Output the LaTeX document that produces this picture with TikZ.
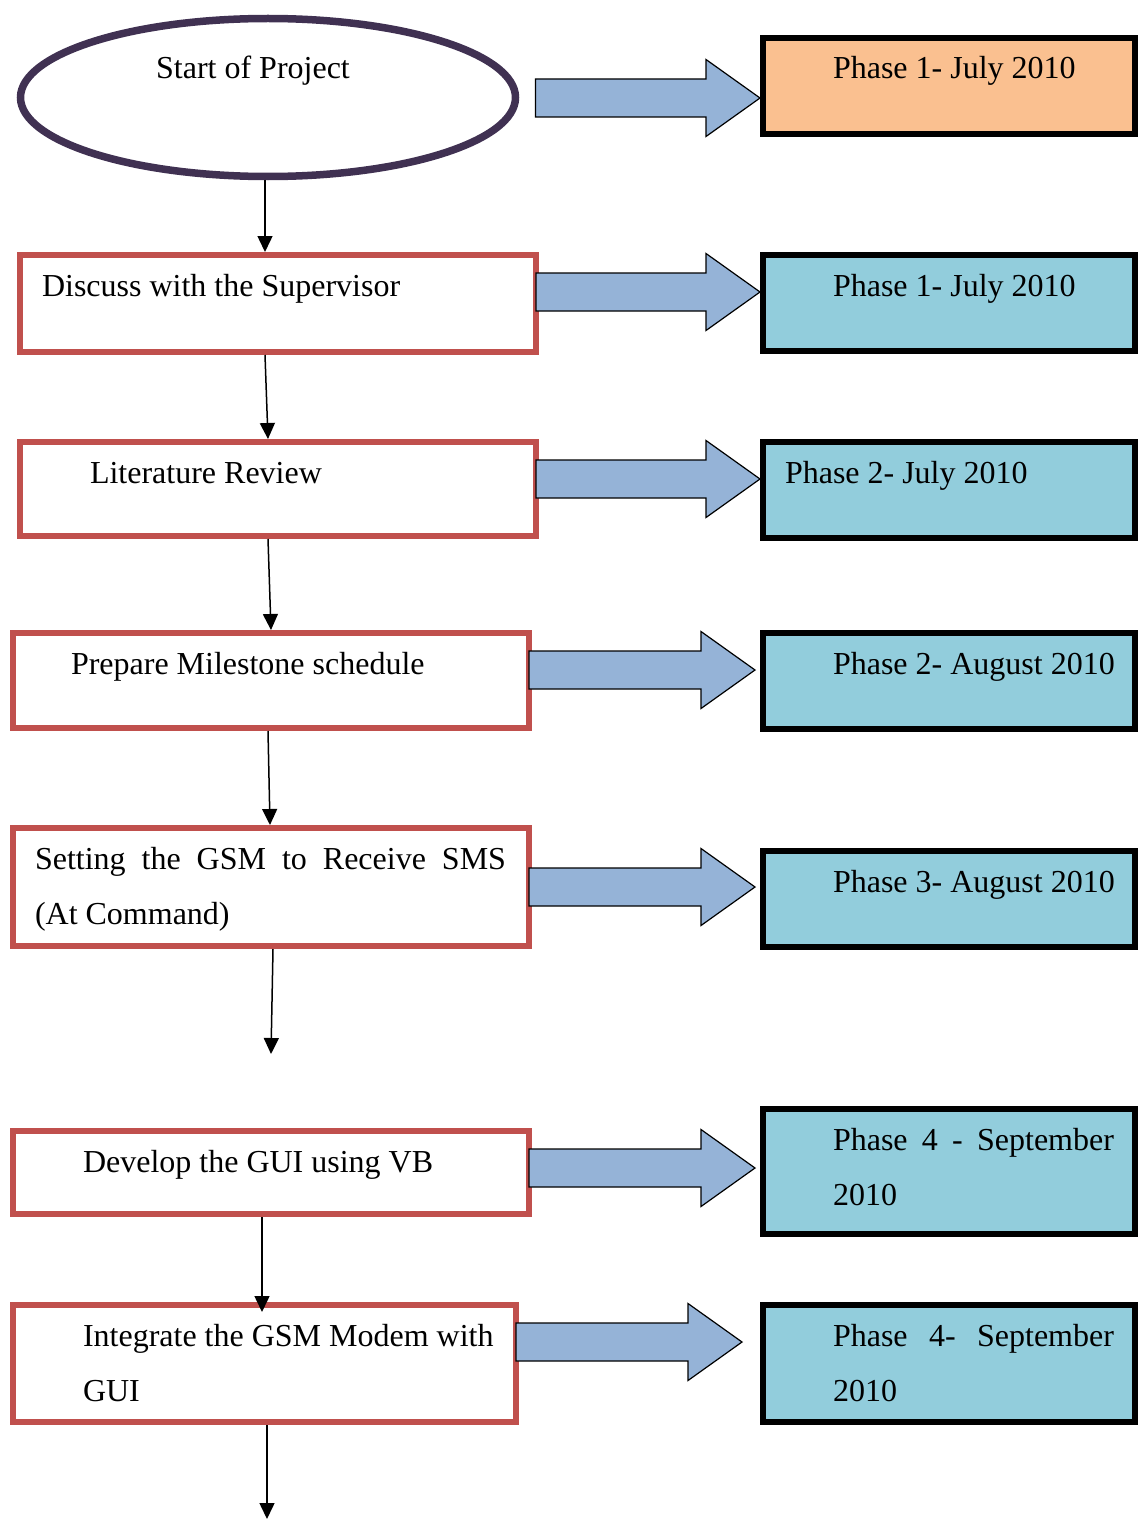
\documentclass[tikz,border=0pt]{standalone}
\usepackage{fontspec}
\setmainfont{Liberation Serif}
\usetikzlibrary{shapes.geometric, arrows.meta, calc}
\definecolor{taskred}{HTML}{C0504D}
\definecolor{startpurple}{HTML}{403152}
\definecolor{phaseorange}{HTML}{FAC090}
\definecolor{phaseblue}{HTML}{92CDDC}
\definecolor{arrowblue}{HTML}{95B3D7}
% left / right inset of the text inside a box
\newcommand{\inset}[2]{\leftskip=#1\rightskip=#2\spaceskip=0pt\xspaceskip=0pt\relax}
\tikzstyle{startstop} = [ellipse, draw=startpurple, line width=3.75pt, minimum width=247.5pt, minimum height=79pt, inner sep=0pt, outer sep=0pt, text height=0pt, text depth=18.5pt]
\tikzstyle{task} = [rectangle, anchor=north west, draw=taskred, line width=3pt, fill=white, text width=242pt, inner xsep=8pt, inner ysep=0pt, outer sep=0pt, text height=20.5pt, align=left]
\tikzstyle{phase} = [rectangle, anchor=north west, draw=black, line width=2.75pt, fill=phaseblue, text width=170pt, inner xsep=8pt, inner ysep=0pt, outer sep=0pt, text height=20.5pt, text depth=27.5pt, align=left]
\tikzstyle{arrow} = [line width=0.75pt, ->, >={Triangle[length=8pt,width=7.5pt]}]
\tikzstyle{fatarrow} = [draw=black, line width=0.6pt, fill=arrowblue, to path={
  ($(\tikztostart |- \tikztotarget)+(0,-19)$) -- ($(\tikztotarget)+(-54,-19)$) -- ($(\tikztotarget)+(-54,-38.5)$)
  -- (\tikztotarget) -- ($(\tikztotarget)+(-54,38.5)$) -- ($(\tikztotarget)+(-54,19)$)
  -- ($(\tikztostart |- \tikztotarget)+(0,19)$) -- cycle}]

\begin{document}
\begin{tikzpicture}[x=0.5pt, y=-0.5pt, font=\fontsize{16}{27.5}\selectfont]
        \useasboundingbox (0,0) rectangle (1138,1520);
        \node (start) [startstop] at (268,97.5) {Start of Project\hspace*{15pt}};
        \node (disc) [task, text depth=28pt] at (20,255) {\inset{3pt}{0pt}Discuss with the Supervisor\par};
        \node (lit) [task, text depth=26.5pt] at (20,442) {\inset{27pt}{0pt}Literature Review\par};
        \node (prep) [task, text depth=27pt] at (13,633) {\inset{21pt}{0pt}Prepare Milestone schedule\par};
        \node (set) [task, text depth=38.5pt] at (13,828) {\inset{3pt}{3.5pt}Setting the GSM to Receive SMS\linebreak (At Command)\par};
        \node (dev) [task, text depth=21pt] at (13,1131) {\inset{27pt}{0pt}Develop the GUI using VB\par};
        \node (integ) [task, text width=235.5pt, text depth=38pt] at (13,1305) {\inset{27pt}{0pt}Integrate the GSM Modem with\newline GUI\par};
        \node (ph1) [phase, fill=phaseorange] at (763,38) {\inset{27pt}{0pt}Phase 1- July 2010\par};
        \node (ph2) [phase] at (763,255) {\inset{27pt}{0pt}Phase 1- July 2010\par};
        \node (ph3) [phase] at (763,442) {\inset{3pt}{0pt}Phase 2- July 2010\par};
        \node (ph4) [phase] at (763,633) {\inset{27pt}{0pt}Phase 2- August 2010\par};
        \node (ph5) [phase] at (763,851) {\inset{27pt}{0pt}Phase 3- August 2010\par};
        \node (ph6) [phase, text depth=42pt] at (763,1109) {\inset{27pt}{2.5pt}Phase 4 - September\linebreak 2010\par};
        \node (ph7) [phase, text depth=38pt] at (763,1305) {\inset{27pt}{2.5pt}Phase 4- September\linebreak 2010\par};
        \coordinate (gap) at (271,1054);
        \coordinate (next) at (267,1519);
        \draw [arrow] ([shift={(-3,3)}]start.south) -- ([shift={(-13,-3)}]disc.north);
        \draw [arrow] ([shift={(-13,3)}]disc.south) -- ([shift={(-10,-3)}]lit.north);
        \draw [arrow] ([shift={(-10,3)}]lit.south) -- ([shift={(0,-3)}]prep.north);
        \draw [arrow] ([shift={(-3,3)}]prep.south) -- ([shift={(-1,-3)}]set.north);
        \draw [arrow] ([shift={(2,3)}]set.south) -- (gap);
        \draw [arrow] ([shift={(-9,3)}]dev.south) -- ([shift={(-2.5,7)}]integ.north);
        \draw [arrow] ([shift={(2.5,3)}]integ.south) -- (next);
        \draw [fatarrow] ([shift={(20,0)}]start.east) to ([shift={(-3,12)}]ph1.west);
        \draw [fatarrow] (disc.east) to ([shift={(-3,-11)}]ph2.west);
        \draw [fatarrow] (lit.east) to ([shift={(-3,-11)}]ph3.west);
        \draw [fatarrow] (prep.east) to ([shift={(-8,-11)}]ph4.west);
        \draw [fatarrow] (set.east) to ([shift={(-8,-12)}]ph5.west);
        \draw [fatarrow] (dev.east) to ([shift={(-8,-3.5)}]ph6.west);
        \draw [fatarrow] (integ.east) to ([shift={(-21,-21.5)}]ph7.west);
\end{tikzpicture}
\end{document}
